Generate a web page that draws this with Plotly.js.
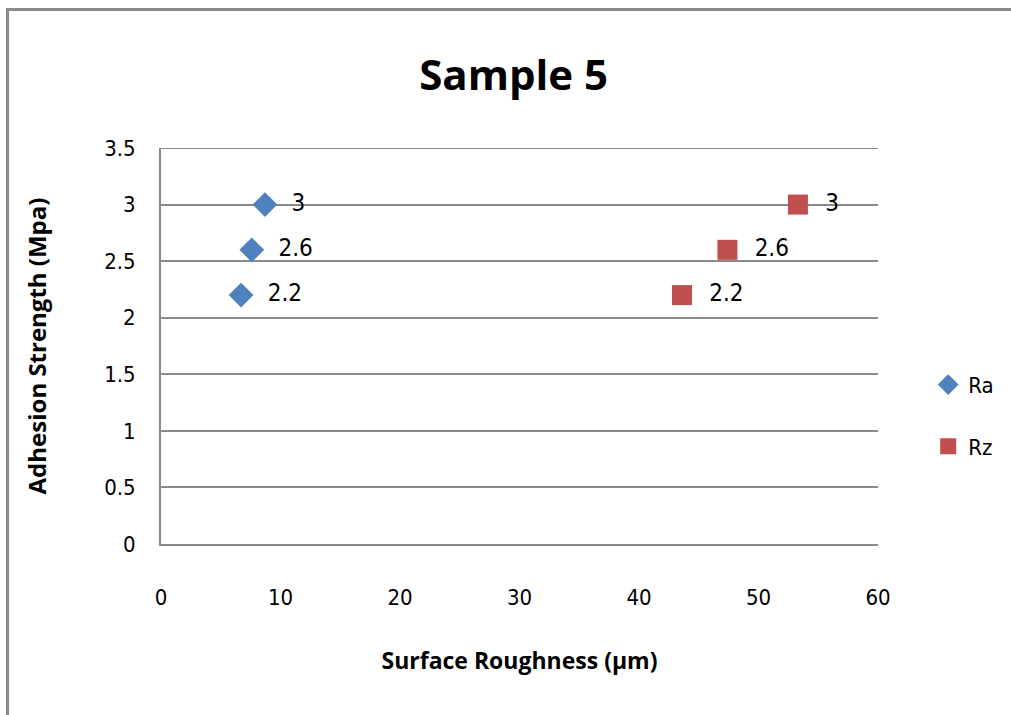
<!DOCTYPE html>
<html>
<head>
<meta charset="utf-8">
<script src="https://cdn.plot.ly/plotly-3.0.1.min.js"></script>
<style>
html,body{margin:0;padding:0;background:#fff;overflow:hidden;}
#frame{position:absolute;left:6px;top:8px;width:1100px;height:800px;border:3px solid #8a8a8a;box-sizing:border-box;pointer-events:none;z-index:5;}
#chart{width:1011px;height:715px;}
</style>
</head>
<body>
<div id="frame"></div>
<div id="chart"></div>
<script>
const raX = [8.7, 7.6, 6.7];
const raY = [3, 2.6, 2.2];
const rzX = [53.3, 47.4, 43.6];
const rzY = [3, 2.6, 2.2];
const seriesNames = ["Ra", "Rz"];
const xTicks = [0, 10, 20, 30, 40, 50, 60];
const yTicks = [0, 0.5, 1, 1.5, 2, 2.5, 3, 3.5];

const fnt = "DejaVu Sans Condensed, Liberation Sans Narrow, sans-serif";
const bold = "Open Sans, sans-serif";

const traces = [
  {x: raX, y: raY, name: seriesNames[0], type: "scatter", mode: "markers+text",
   text: raY.map(v => "  " + v), textposition: "middle right",
   textfont: {family: fnt, size: 24, color: "#000"},
   marker: {symbol: "diamond", size: 19, color: "#4F81BD"},
   legendgroup: "a"},
  {x: rzX, y: rzY, name: seriesNames[1], type: "scatter", mode: "markers+text",
   text: rzY.map(v => "  " + v), textposition: "middle right",
   textfont: {family: fnt, size: 24, color: "#000"},
   marker: {symbol: "square", size: 20, color: "#C0504D"},
   legendgroup: "b"}
];

const layout = {
  width: 1011, height: 715,
  margin: {l: 161, r: 128, t: 148, b: 171},
  paper_bgcolor: "#fff", plot_bgcolor: "#fff",
  title: {text: "<b>Sample 5</b>", font: {family: bold, size: 42, color: "#000"},
          x: 0.508, xanchor: "center", y: 0.895, yanchor: "middle"},
  xaxis: {range: [0, 60], tickvals: xTicks, ticktext: xTicks.map(String),
          showgrid: false, zeroline: false, showline: true, linecolor: "#8a8a8a", linewidth: 2,
          ticks: "", ticklabelstandoff: 33, automargin: false,
          tickfont: {family: fnt, size: 22, color: "#000"},
          title: {text: "<b>Surface Roughness (µm)</b>", standoff: 43,
                  font: {family: bold, size: 23, color: "#000"}}},
  yaxis: {range: [0, 3.5], tickvals: yTicks, ticktext: yTicks.map(String),
          showgrid: true, gridcolor: "#8a8a8a", gridwidth: 2,
          zeroline: false, showline: true, linecolor: "#8a8a8a", linewidth: 2,
          ticks: "", ticklabelstandoff: 19, automargin: false,
          tickfont: {family: fnt, size: 22, color: "#000"},
          title: {text: "<b>Adhesion Strength (Mpa)</b>", standoff: 51,
                  font: {family: bold, size: 24, color: "#000"}}},
  shapes: [{type: "line", xref: "paper", yref: "y", x0: 0, x1: 1,
            y0: yTicks[yTicks.length - 1], y1: yTicks[yTicks.length - 1],
            line: {color: "#8a8a8a", width: 2}, layer: "below"}],
  legend: {x: 1.07, y: 0.455, xanchor: "left", yanchor: "top",
           font: {family: fnt, size: 22, color: "#000"},
           traceorder: "grouped", tracegroupgap: 30, bgcolor: "rgba(0,0,0,0)"},
  showlegend: true
};

Plotly.newPlot("chart", traces, layout, {displayModeBar: false, staticPlot: true});
</script>
</body>
</html>
